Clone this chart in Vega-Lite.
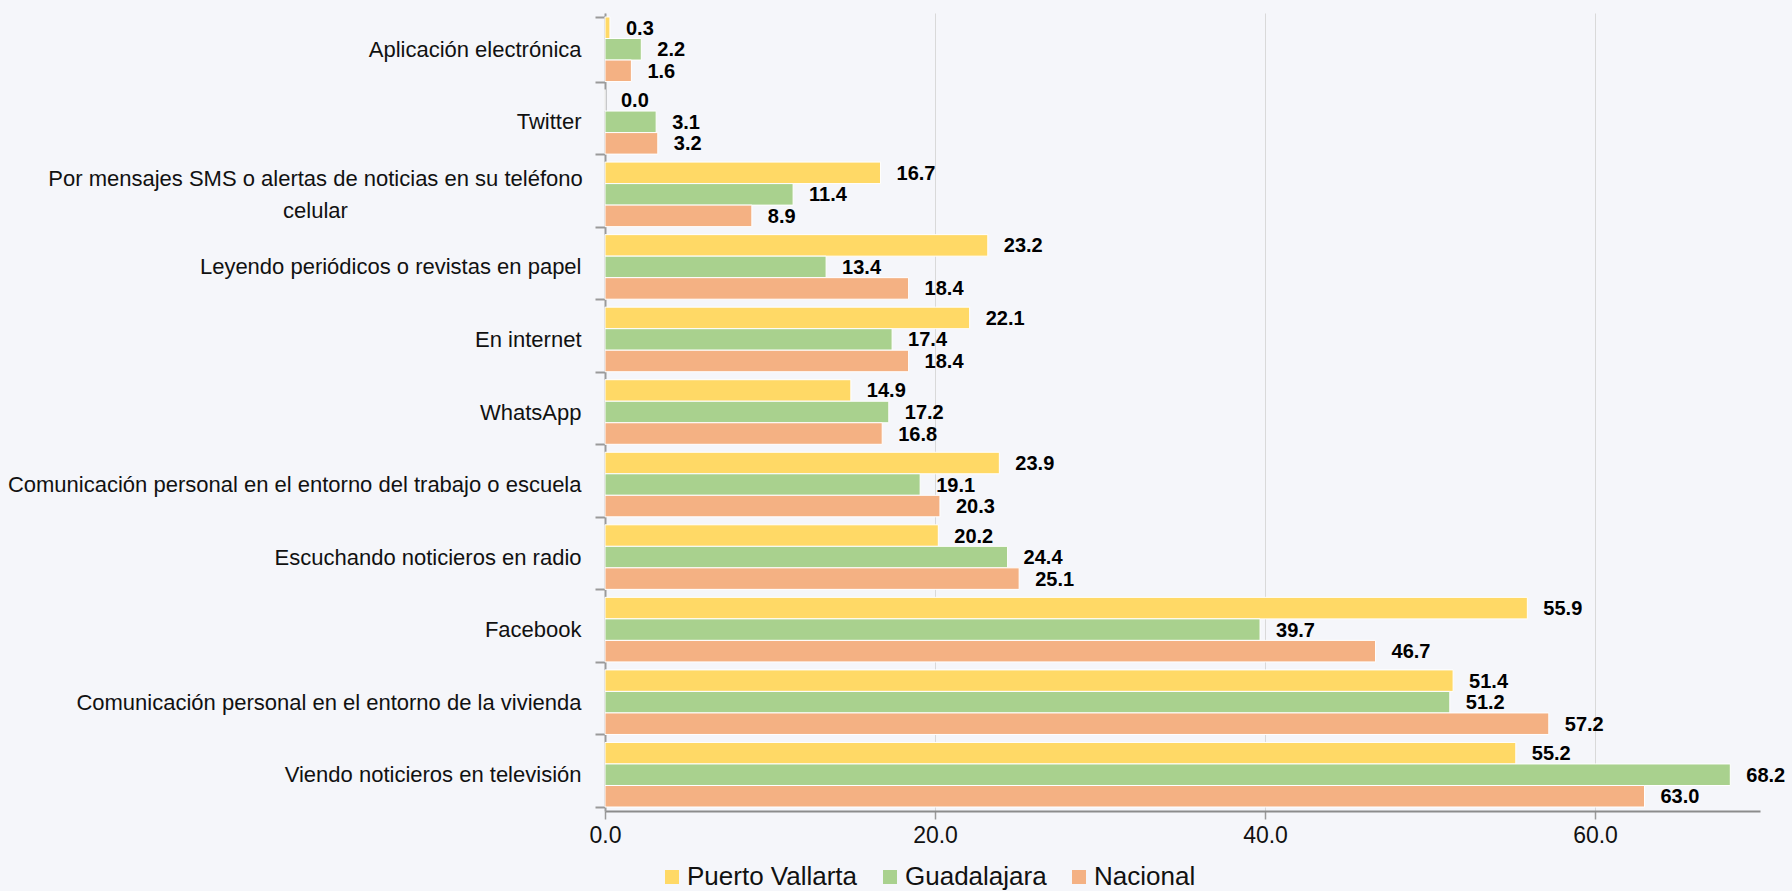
{
  "$schema": "https://vega.github.io/schema/vega-lite/v6.json",
  "width": 1155,
  "height": 798,
  "autosize": {"type": "none"},
  "padding": {"left": 605, "top": 13, "right": 32, "bottom": 80},
  "background": "#f5f6fa",
  "config": {"view": {"stroke": null}, "font": "Liberation Sans"},
  "data": {
    "values": [
      {"medio": "Aplicación electrónica", "serie": "Puerto Vallarta", "valor": 0.3},
      {"medio": "Aplicación electrónica", "serie": "Guadalajara", "valor": 2.2},
      {"medio": "Aplicación electrónica", "serie": "Nacional", "valor": 1.6},
      {"medio": "Twitter", "serie": "Puerto Vallarta", "valor": 0.0},
      {"medio": "Twitter", "serie": "Guadalajara", "valor": 3.1},
      {"medio": "Twitter", "serie": "Nacional", "valor": 3.2},
      {"medio": "Por mensajes SMS o alertas de noticias en su teléfono|celular", "serie": "Puerto Vallarta", "valor": 16.7},
      {"medio": "Por mensajes SMS o alertas de noticias en su teléfono|celular", "serie": "Guadalajara", "valor": 11.4},
      {"medio": "Por mensajes SMS o alertas de noticias en su teléfono|celular", "serie": "Nacional", "valor": 8.9},
      {"medio": "Leyendo periódicos o revistas en papel", "serie": "Puerto Vallarta", "valor": 23.2},
      {"medio": "Leyendo periódicos o revistas en papel", "serie": "Guadalajara", "valor": 13.4},
      {"medio": "Leyendo periódicos o revistas en papel", "serie": "Nacional", "valor": 18.4},
      {"medio": "En internet", "serie": "Puerto Vallarta", "valor": 22.1},
      {"medio": "En internet", "serie": "Guadalajara", "valor": 17.4},
      {"medio": "En internet", "serie": "Nacional", "valor": 18.4},
      {"medio": "WhatsApp", "serie": "Puerto Vallarta", "valor": 14.9},
      {"medio": "WhatsApp", "serie": "Guadalajara", "valor": 17.2},
      {"medio": "WhatsApp", "serie": "Nacional", "valor": 16.8},
      {"medio": "Comunicación personal en el entorno del trabajo o escuela", "serie": "Puerto Vallarta", "valor": 23.9},
      {"medio": "Comunicación personal en el entorno del trabajo o escuela", "serie": "Guadalajara", "valor": 19.1},
      {"medio": "Comunicación personal en el entorno del trabajo o escuela", "serie": "Nacional", "valor": 20.3},
      {"medio": "Escuchando noticieros en radio", "serie": "Puerto Vallarta", "valor": 20.2},
      {"medio": "Escuchando noticieros en radio", "serie": "Guadalajara", "valor": 24.4},
      {"medio": "Escuchando noticieros en radio", "serie": "Nacional", "valor": 25.1},
      {"medio": "Facebook", "serie": "Puerto Vallarta", "valor": 55.9},
      {"medio": "Facebook", "serie": "Guadalajara", "valor": 39.7},
      {"medio": "Facebook", "serie": "Nacional", "valor": 46.7},
      {"medio": "Comunicación personal en el entorno de la vivienda", "serie": "Puerto Vallarta", "valor": 51.4},
      {"medio": "Comunicación personal en el entorno de la vivienda", "serie": "Guadalajara", "valor": 51.2},
      {"medio": "Comunicación personal en el entorno de la vivienda", "serie": "Nacional", "valor": 57.2},
      {"medio": "Viendo noticieros en televisión", "serie": "Puerto Vallarta", "valor": 55.2},
      {"medio": "Viendo noticieros en televisión", "serie": "Guadalajara", "valor": 68.2},
      {"medio": "Viendo noticieros en televisión", "serie": "Nacional", "valor": 63.0}
    ]
  },
  "encoding": {
    "y": {
      "field": "medio",
      "type": "nominal",
      "sort": [
        "Aplicación electrónica",
        "Twitter",
        "Por mensajes SMS o alertas de noticias en su teléfono|celular",
        "Leyendo periódicos o revistas en papel",
        "En internet",
        "WhatsApp",
        "Comunicación personal en el entorno del trabajo o escuela",
        "Escuchando noticieros en radio",
        "Facebook",
        "Comunicación personal en el entorno de la vivienda",
        "Viendo noticieros en televisión"
      ],
      "scale": {"paddingInner": 0.11, "paddingOuter": 0.055},
      "axis": {
        "title": null,
        "grid": false,
        "domainColor": "#9a9a9a",
        "domainWidth": 2,
        "tickColor": "#9a9a9a",
        "tickWidth": 2,
        "tickSize": 10,
        "tickBand": "extent",
        "labelFontSize": 22,
        "labelColor": "#111111",
        "labelPadding": {
          "condition": {"test": "indexof('' + datum.value, '|') >= 0", "value": 280},
          "value": 14
        },
        "labelAlign": {
          "condition": {"test": "indexof('' + datum.value, '|') >= 0", "value": "center"},
          "value": "right"
        },
        "labelOffset": {
          "condition": {"test": "indexof('' + datum.value, '|') >= 0", "value": -16},
          "value": 0
        },
        "labelLimit": 700,
        "labelLineHeight": 32,
        "labelExpr": "isString(datum.value) ? split(datum.value, '|') : ''"
      }
    },
    "yOffset": {
      "field": "serie",
      "type": "nominal",
      "sort": ["Puerto Vallarta", "Guadalajara", "Nacional"],
      "scale": {"paddingInner": 0, "paddingOuter": 0}
    },
    "x": {
      "field": "valor",
      "type": "quantitative",
      "scale": {"domain": [0, 70], "nice": false},
      "axis": {
        "title": null,
        "values": [0, 20, 40, 60],
        "format": ".1f",
        "labelFontSize": 23,
        "labelColor": "#111111",
        "labelPadding": 5,
        "labelFlush": false,
        "grid": true,
        "gridColor": "#d9d9d9",
        "gridWidth": 1,
        "domainColor": "#8c8c8c",
        "domainWidth": 2,
        "tickColor": "#9a9a9a",
        "tickSize": 8,
        "tickWidth": 1.5
      }
    }
  },
  "layer": [
    {
      "mark": {"type": "bar", "stroke": "#ffffff", "strokeWidth": 1},
      "encoding": {
        "color": {
          "field": "serie",
          "type": "nominal",
          "sort": ["Puerto Vallarta", "Guadalajara", "Nacional"],
          "scale": {
            "domain": ["Puerto Vallarta", "Guadalajara", "Nacional"],
            "range": ["#ffd966", "#a9d18e", "#f4b183"]
          },
          "legend": {
            "title": null,
            "orient": "none",
            "direction": "horizontal",
            "legendX": 54,
            "legendY": 851,
            "symbolType": "square",
            "symbolSize": 196,
            "symbolStrokeWidth": 0,
            "labelFontSize": 26,
            "labelColor": "#111111",
            "labelOffset": 2,
            "labelLimit": 400,
            "columnPadding": 19
          }
        }
      }
    },
    {
      "mark": {
        "type": "text",
        "align": "left",
        "baseline": "middle",
        "dx": 16,
        "dy": 1,
        "fontWeight": "bold",
        "fontSize": 20,
        "color": "#000000"
      },
      "encoding": {
        "text": {"field": "valor", "type": "quantitative", "format": ".1f"}
      }
    }
  ]
}
